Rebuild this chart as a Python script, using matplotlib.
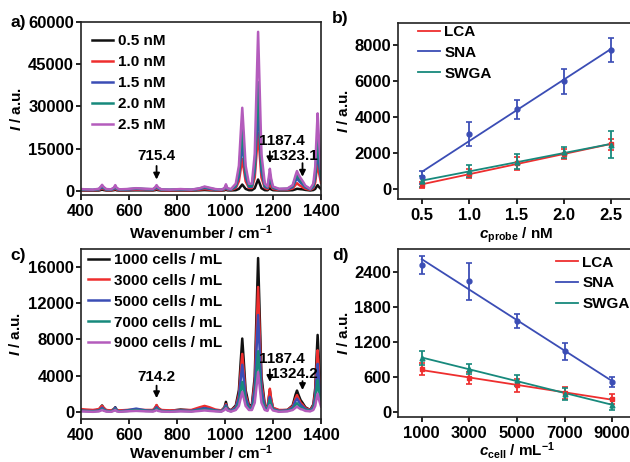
import numpy as np
import matplotlib
matplotlib.use("Agg")
import matplotlib.pyplot as plt

plt.rcParams['font.family'] = ['Liberation Sans', 'DejaVu Sans']
plt.rcParams['font.weight'] = 'bold'
plt.rcParams['axes.labelweight'] = 'bold'
plt.rcParams['mathtext.fontset'] = 'custom'
plt.rcParams['mathtext.rm'] = 'Liberation Sans:bold'
plt.rcParams['mathtext.bf'] = 'Liberation Sans:bold'
plt.rcParams['mathtext.it'] = 'Liberation Sans:bold:italic'

# ---- spectra (shared wavenumber grid) ----
wavenumber = [400, 420, 450, 475, 482, 488, 494, 505, 525, 537,
              543, 549, 560, 590, 630, 670, 700, 709, 715, 721,
              735, 770, 815, 860, 895, 915, 935, 960, 985, 998,
              1004, 1010, 1025, 1045, 1058, 1066, 1072, 1078, 1086, 1100,
              1112, 1124, 1132, 1138, 1144, 1152, 1166, 1177, 1182, 1187,
              1192, 1200, 1225, 1260, 1282, 1294, 1300, 1306, 1315, 1323,
              1335, 1355, 1368, 1376, 1381, 1386, 1392, 1400]

# panel a: probe concentration
spec_05nM = [100, 80, 50, 100, 250, 400, 250, 100, 80, 200,
             350, 150, 80, 100, 150, 120, 100, 200, 350, 200,
             80, 60, 100, 60, 150, 250, 150, 100, 60, 150,
             400, 150, 100, 200, 650, 1550, 2200, 1550, 650, 200,
             200, 900, 2700, 4000, 2700, 900, 200, 150, 500, 900,
             500, 200, 100, 100, 200, 500, 700, 650, 550, 500,
             300, 100, 250, 650, 1400, 2000, 1300, 600]
spec_10nM = [250, 200, 150, 300, 600, 900, 600, 250, 200, 450,
             800, 400, 200, 250, 400, 300, 250, 500, 800, 500,
             200, 150, 250, 150, 400, 600, 400, 250, 150, 400,
             1000, 400, 250, 950, 3400, 8000, 11300, 8000, 3400, 1000,
             1000, 4700, 13800, 20500, 13800, 4700, 1000, 600, 1600, 2800,
             1600, 600, 300, 350, 800, 2100, 2700, 2200, 1700, 1300,
             700, 300, 900, 3000, 6600, 9800, 6300, 2800]
spec_15nM = [400, 300, 250, 500, 900, 1400, 900, 400, 350, 700,
             1300, 650, 350, 400, 650, 500, 400, 800, 1300, 800,
             350, 300, 400, 300, 650, 1000, 700, 400, 300, 650,
             1500, 600, 400, 1400, 5000, 11900, 16800, 11900, 5000, 1400,
             1400, 6900, 20100, 30000, 20100, 6900, 1400, 1000, 2800, 5000,
             2800, 1000, 500, 550, 1300, 3500, 4500, 3700, 2900, 2300,
             1200, 500, 1300, 4500, 9800, 14500, 9300, 4100]
spec_20nM = [500, 400, 300, 600, 1200, 1700, 1100, 500, 400, 900,
             1600, 800, 400, 500, 800, 600, 500, 1000, 1600, 1000,
             400, 350, 500, 350, 800, 1300, 900, 500, 350, 800,
             1800, 700, 500, 1800, 6500, 15400, 21700, 15400, 6500, 1800,
             1800, 8900, 25900, 38600, 25900, 8900, 1800, 1200, 3400, 6000,
             3400, 1200, 600, 700, 1700, 4500, 5800, 4800, 3700, 2900,
             1500, 600, 1700, 5800, 12700, 18800, 12000, 5300]
spec_25nM = [600, 500, 400, 700, 1400, 2100, 1400, 600, 500, 1100,
             2000, 1000, 500, 600, 900, 700, 600, 1200, 2000, 1200,
             500, 400, 600, 400, 900, 1500, 1100, 600, 400, 900,
             2300, 900, 600, 2500, 8900, 21000, 29500, 21000, 8900, 2500,
             2500, 13000, 37900, 56500, 37900, 13000, 2500, 1500, 4500, 7800,
             4500, 1500, 700, 800, 2000, 5500, 7000, 5800, 4500, 3500,
             1800, 700, 2500, 8500, 18500, 27500, 17500, 7800]

# panel c: cell concentration
spec_1000 = [200, 150, 100, 250, 500, 700, 450, 150, 100, 300,
             500, 200, 100, 150, 200, 150, 150, 400, 700, 400,
             150, 100, 250, 150, 300, 450, 300, 150, 100, 500,
             1100, 400, 150, 700, 2400, 5750, 8100, 5750, 2400, 700,
             750, 3900, 11400, 17000, 11400, 3900, 750, 400, 1400, 2350,
             1400, 400, 150, 200, 700, 1900, 2350, 1900, 1300, 1000,
             500, 200, 800, 2600, 5700, 8500, 5400, 2400]
spec_3000 = [300, 250, 200, 300, 500, 650, 450, 200, 150, 250,
             400, 200, 150, 200, 250, 200, 200, 450, 750, 450,
             200, 150, 200, 200, 500, 650, 500, 250, 150, 450,
             850, 350, 150, 550, 1900, 4550, 6400, 4550, 1900, 550,
             600, 3200, 9200, 13800, 9200, 3200, 600, 450, 1500, 2550,
             1500, 450, 200, 200, 600, 1500, 1850, 1500, 1000, 800,
             400, 200, 650, 2100, 4600, 6800, 4300, 1900]
spec_5000 = [150, 100, 80, 150, 300, 450, 300, 100, 50, 200,
             450, 150, 50, 150, 350, 150, 100, 300, 500, 300,
             100, 50, 150, 100, 300, 400, 300, 150, 80, 400,
             750, 300, 100, 450, 1550, 3700, 5200, 3700, 1550, 450,
             450, 2500, 7200, 10700, 7200, 2500, 450, 300, 1000, 1650,
             1000, 300, 100, 150, 450, 1200, 1450, 1200, 800, 600,
             300, 150, 500, 1600, 3600, 5300, 3400, 1500]
spec_7000 = [100, 80, 50, 100, 200, 300, 200, 80, 30, 150,
             300, 100, 30, 80, 200, 100, 80, 200, 350, 200,
             80, 30, 100, 50, 200, 250, 200, 100, 50, 300,
             550, 200, 50, 300, 1000, 2350, 3300, 2350, 1000, 300,
             300, 1550, 4500, 6700, 4500, 1550, 300, 200, 800, 1300,
             800, 250, 50, 100, 300, 750, 950, 750, 500, 400,
             200, 100, 350, 1100, 2400, 3500, 2200, 1000]
spec_9000 = [50, 30, 0, 50, 120, 200, 120, 30, 0, 100,
             200, 50, 0, 50, 100, 50, 30, 100, 200, 100,
             30, 0, 50, 20, 100, 150, 100, 50, 20, 200,
             400, 150, 20, 200, 650, 1550, 2200, 1550, 650, 200,
             200, 1000, 2950, 4400, 2950, 1000, 200, 100, 450, 750,
             450, 150, 0, 50, 200, 450, 580, 450, 300, 250,
             100, 50, 200, 650, 1400, 2000, 1300, 600]

# panel b: intensity vs probe concentration
conc = [0.5, 1.0, 1.5, 2.0, 2.5]
lca_b = [220, 850, 1420, 1940, 2480]
lca_b_err = [150, 250, 350, 300, 300]
sna_b = [650, 3040, 4430, 5960, 7720]
sna_b_err = [350, 670, 530, 700, 670]
swga_b = [420, 1000, 1520, 2040, 2450]
swga_b_err = [300, 350, 400, 300, 750]

# panel d: intensity vs cell concentration
cells = [1000, 3000, 5000, 7000, 9000]
lca_d = [730, 580, 455, 330, 220]
lca_d_err = [100, 110, 110, 100, 90]
sna_d = [2520, 2235, 1560, 1035, 510]
sna_d_err = [150, 320, 125, 150, 90]
swga_d = [925, 735, 540, 310, 125]
swga_d_err = [120, 90, 100, 100, 100]

BLACK = '#111111'
RED = '#ee2e2e'
BLUE = '#3b4db5'
TEAL = '#17897c'
PURPLE = '#b45cbc'
FS = 11
TFS = 12

fig = plt.figure(figsize=(6.3, 4.62), dpi=100)
ax_a = fig.add_axes([0.1285, 0.5780, 0.3810, 0.3744])
ax_b = fig.add_axes([0.6317, 0.5693, 0.3763, 0.3810])
ax_c = fig.add_axes([0.1285, 0.0930, 0.3810, 0.3680])
ax_d = fig.add_axes([0.6317, 0.0970, 0.3778, 0.3640])


def style(ax):
    for s in ax.spines.values():
        s.set_linewidth(1.2)
        s.set_color('#222222')
    ax.tick_params(direction='out', length=3.5, width=1.2, labelsize=TFS)
    ax.tick_params(axis='x', pad=3)
    ax.tick_params(axis='y', pad=1.5)


leg_kw = dict(frameon=False, fontsize=FS, handlelength=1.4, labelspacing=0.45,
              handletextpad=0.3, borderaxespad=0.3)

# a) spectra vs probe concentration
for y, c, lab in zip([spec_05nM, spec_10nM, spec_15nM, spec_20nM, spec_25nM],
                     [BLACK, RED, BLUE, TEAL, PURPLE],
                     ['0.5 nM', '1.0 nM', '1.5 nM', '2.0 nM', '2.5 nM']):
    ax_a.plot(wavenumber, y, color=c, lw=1.8, label=lab)
ax_a.set_xlim(400, 1400)
ax_a.set_ylim(-1500, 60000)
ax_a.set_xticks([400, 600, 800, 1000, 1200, 1400])
ax_a.set_yticks([0, 15000, 30000, 45000, 60000])
ax_a.set_xlabel('Wavenumber / cm$^{-1}$', fontsize=FS, labelpad=3)
ax_a.set_ylabel('$\\mathit{I}$ / a.u.', fontsize=FS)
ax_a.yaxis.set_label_coords(-0.237, 0.5)
ax_a.legend(loc='upper left', bbox_to_anchor=(0.0, 0.99), **leg_kw)
arr = dict(arrowstyle='-|>', color='black', lw=1.3, mutation_scale=9)
ax_a.annotate('', xy=(715, 3000), xytext=(715, 9800), arrowprops=arr)
ax_a.text(715, 12300, '715.4', ha='center', va='center', fontsize=FS)
ax_a.annotate('', xy=(1187, 8800), xytext=(1187, 15000), arrowprops=arr)
ax_a.text(1236, 17700, '1187.4', ha='center', va='center', fontsize=FS)
ax_a.annotate('', xy=(1323, 4000), xytext=(1323, 10800), arrowprops=arr)
ax_a.text(1290, 12400, '1323.1', ha='center', va='center', fontsize=FS)
style(ax_a)

# c) spectra vs cell concentration
for y, c, lab in zip([spec_1000, spec_3000, spec_5000, spec_7000, spec_9000],
                     [BLACK, RED, BLUE, TEAL, PURPLE],
                     ['1000 cells / mL', '3000 cells / mL', '5000 cells / mL',
                      '7000 cells / mL', '9000 cells / mL']):
    ax_c.plot(wavenumber, y, color=c, lw=1.8, label=lab)
ax_c.set_xlim(400, 1400)
ax_c.set_ylim(-800, 18000)
ax_c.set_xticks([400, 600, 800, 1000, 1200, 1400])
ax_c.set_yticks([0, 4000, 8000, 12000, 16000])
ax_c.set_xlabel('Wavenumber / cm$^{-1}$', fontsize=FS, labelpad=0)
ax_c.set_ylabel('$\\mathit{I}$ / a.u.', fontsize=FS)
ax_c.yaxis.set_label_coords(-0.241, 0.5)
ax_c.legend(loc='upper left', bbox_to_anchor=(-0.015, 1.04), **leg_kw)
ax_c.annotate('', xy=(715, 1200), xytext=(715, 3200), arrowprops=arr)
ax_c.text(715, 3900, '714.2', ha='center', va='center', fontsize=FS)
ax_c.annotate('', xy=(1187, 3000), xytext=(1187, 5000), arrowprops=arr)
ax_c.text(1236, 5800, '1187.4', ha='center', va='center', fontsize=FS)
ax_c.annotate('', xy=(1323, 2100), xytext=(1323, 3700), arrowprops=arr)
ax_c.text(1290, 4200, '1324.2', ha='center', va='center', fontsize=FS)
style(ax_c)


def calib(ax, x, series):
    for y, e, c, m, lab in series:
        k, b = np.polyfit(x, y, 1)
        xs = np.array([x[0], x[-1]])
        ax.plot(xs, k * xs + b, color=c, lw=1.3, label=lab)
        ax.errorbar(x, y, yerr=e, fmt=m, color=c, ms=3.5, capsize=2.5,
                    elinewidth=1.3, capthick=1.2)


# b) calibration vs probe concentration
calib(ax_b, conc, [(lca_b, lca_b_err, RED, 's', 'LCA'),
                   (sna_b, sna_b_err, BLUE, 'o', 'SNA'),
                   (swga_b, swga_b_err, TEAL, '^', 'SWGA')])
ax_b.set_xlim(0.25, 2.75)
ax_b.set_ylim(-550, 9200)
ax_b.set_xticks([0.5, 1.0, 1.5, 2.0, 2.5])
ax_b.set_yticks([0, 2000, 4000, 6000, 8000])
ax_b.set_xlabel('$\\mathit{c}_{\\mathrm{probe}}$ / nM', fontsize=FS, labelpad=2)
ax_b.set_ylabel('$\\mathit{I}$ / a.u.', fontsize=FS)
ax_b.yaxis.set_label_coords(-0.198, 0.5)
ax_b.legend(loc='upper left', bbox_to_anchor=(0.04, 1.05), **leg_kw)
style(ax_b)

# d) calibration vs cell concentration
calib(ax_d, cells, [(lca_d, lca_d_err, RED, 's', 'LCA'),
                    (sna_d, sna_d_err, BLUE, 'o', 'SNA'),
                    (swga_d, swga_d_err, TEAL, '^', 'SWGA')])
ax_d.set_xlim(0, 10000)
ax_d.set_ylim(-90, 2790)
ax_d.set_xticks([1000, 3000, 5000, 7000, 9000])
ax_d.set_yticks([0, 600, 1200, 1800, 2400])
ax_d.set_xlabel('$\\mathit{c}_{\\mathrm{cell}}$ / mL$^{-1}$', fontsize=FS, labelpad=-1)
ax_d.set_ylabel('$\\mathit{I}$ / a.u.', fontsize=FS)
ax_d.yaxis.set_label_coords(-0.198, 0.5)
ax_d.legend(loc='upper left', bbox_to_anchor=(0.62, 1.025), **leg_kw)
style(ax_d)

for lab, x, y in [('a)', 0.016, 0.952), ('b)', 0.527, 0.961),
                  ('c)', 0.016, 0.448), ('d)', 0.527, 0.448)]:
    fig.text(x, y, lab, fontsize=FS + 1.5, ha='left', va='center')

fig.savefig('out.png', dpi=100)
